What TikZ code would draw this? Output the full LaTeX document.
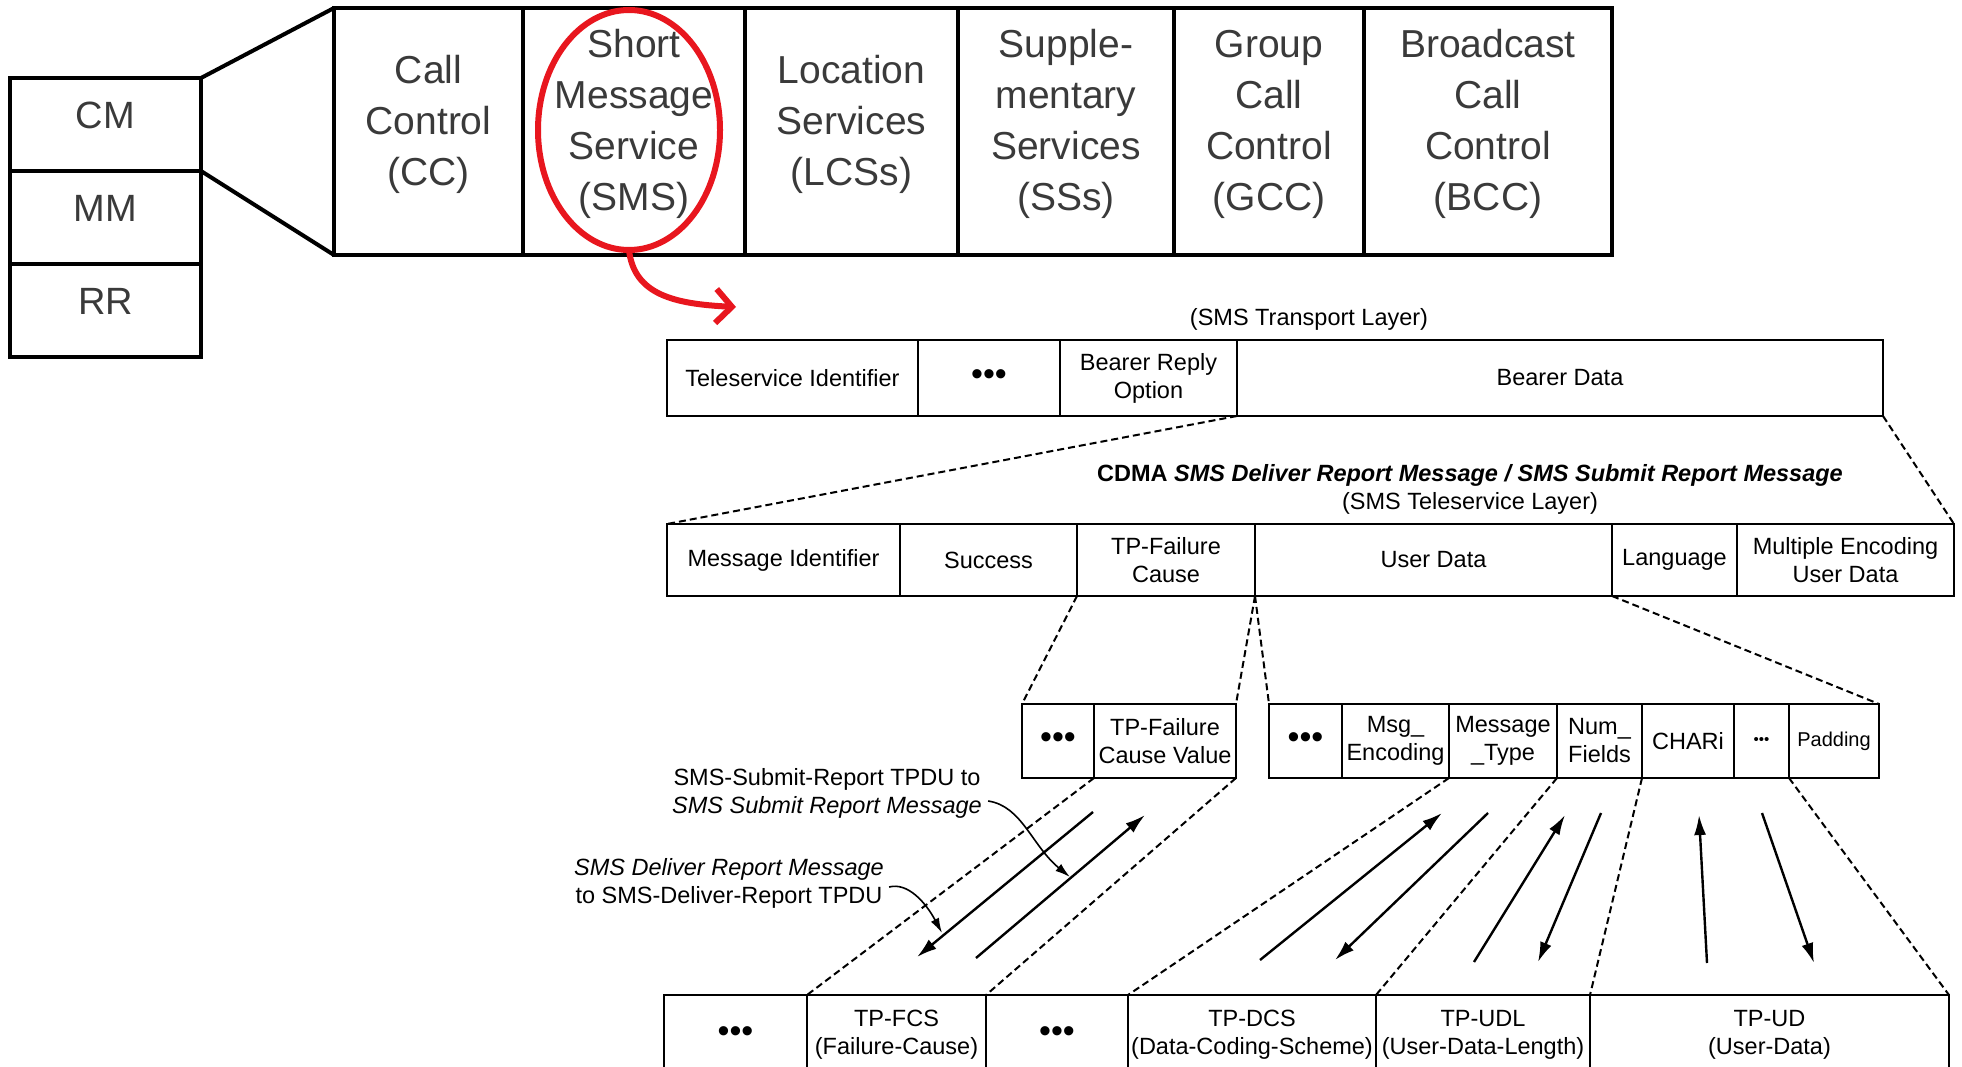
\documentclass[tikz,border=0pt]{standalone}
\usepackage{fontspec}
\setmainfont{Liberation Sans}
\usetikzlibrary{positioning,shapes.geometric,arrows.meta}

\definecolor{ringred}{RGB}{232,22,30}
\definecolor{scangray}{RGB}{58,58,58}
\newcommand{\bandfont}{\fontsize{39}{51}\selectfont}
\newcommand{\stackfont}{\fontsize{38}{46}\selectfont}
\newcommand{\fldfont}{\fontsize{23.5}{28}\selectfont}
\newcommand{\padfont}{\fontsize{20}{24}\selectfont}
\newcommand{\dotsfont}{\fontsize{34}{34}\selectfont}
\newcommand{\smalldots}{\fontsize{15}{15}\selectfont}

\begin{document}
\begin{tikzpicture}[x=1pt,y=-1pt,
					outer sep=0pt,
					stackbox/.style={draw,line width=4pt,minimum width=191pt,minimum height=93pt,text depth=18pt,font=\stackfont,text=scangray},
					svc/.style={draw,line width=4pt,minimum height=247pt,inner sep=0pt,align=center,text depth=23pt,font=\bandfont,text=scangray},
					fld/.style={draw,line width=2pt,inner sep=0pt,align=center,font=\fldfont},
					rowa/.style={fld,minimum height=76pt},
					rowb/.style={fld,minimum height=72pt},
					rowc/.style={fld,minimum height=74pt},
					rowd/.style={fld,minimum height=80pt},
					zoomline/.style={line width=2pt,dash pattern=on 7pt off 4pt},
					xfer/.style={line width=2.4pt,-{Latex[length=20pt,width=12pt]}},
					note/.style={align=center,font=\fldfont},
					notearrow/.style={line width=1.6pt,-{Latex[length=15pt,width=9pt]}}]

  \useasboundingbox (0,0) rectangle (1962,1067);
  \clip (0,0) rectangle (1962,1067);

  % protocol stack
  \node[stackbox,anchor=north west] (CM) at (10,78) {CM};
  \node[stackbox,below=0pt of CM] (MM) {MM};
  \node[stackbox,below=0pt of MM] (RR) {RR};

  % CM sublayer services
  \node[svc,minimum width=189pt,anchor=north west] (CC) at (334,8) {Call\\Control\\(CC)};
  \node[svc,minimum width=222pt,right=0pt of CC] (SMS) {Short\\Message\\Service\\(SMS)};
  \node[svc,minimum width=213pt,right=0pt of SMS] (LCS) {Location\\Services\\(LCSs)};
  \node[svc,minimum width=216pt,right=0pt of LCS] (SS) {Supple-\\mentary\\Services\\(SSs)};
  \node[svc,minimum width=190pt,right=0pt of SS] (GCC) {Group\\Call\\Control\\(GCC)};
  \node[svc,minimum width=248pt,right=0pt of GCC] (BCC) {Broadcast\\Call\\Control\\(BCC)};

  \draw[line width=4pt] (CM.north east) -- (CC.north west)
                        (CM.south east) -- (CC.south west);

  \node[draw=ringred,line width=6pt,ellipse,minimum width=182pt,minimum height=240pt] (ring) at (629,130) {};
  \coordinate (redtip) at (736,307);
  \draw[ringred,line width=6pt,-{Straight Barb[length=16pt,width=34pt]}]
    (ring.south) .. controls (634,295) and (675,304) .. (redtip);

  % SMS transport layer
  \node[note] (translbl) at (1309,319) {(SMS Transport Layer)};
  \node[rowa,minimum width=251pt,anchor=north west] (tsid) at (667,340) {Teleservice Identifier};
  \node[rowa,minimum width=142pt,right=0pt of tsid,font=\dotsfont] (tdots) {•••};
  \node[rowa,minimum width=177pt,right=0pt of tdots] (bro) {Bearer Reply\\Option};
  \node[rowa,minimum width=646pt,right=0pt of bro] (bdata) {Bearer Data};

  % SMS teleservice layer
  \node[note] (tslayer) at (1470,489) {\textbf{CDMA \textit{SMS Deliver Report Message / SMS Submit Report Message}}\\(SMS Teleservice Layer)};
  \node[rowb,minimum width=233pt,anchor=north west] (msgid) at (667,524) {Message Identifier};
  \node[rowb,minimum width=177pt,right=0pt of msgid] (succ) {Success};
  \node[rowb,minimum width=178pt,right=0pt of succ] (tpfc) {TP-Failure\\Cause};
  \node[rowb,minimum width=357pt,right=0pt of tpfc] (udata) {User Data};
  \node[rowb,minimum width=125pt,right=0pt of udata] (lang) {Language};
  \node[rowb,minimum width=217pt,right=0pt of lang] (meud) {Multiple Encoding\\User Data};

  \draw[zoomline] (bdata.south west) -- (msgid.north west)
                  (bdata.south east) -- (meud.north east);

  % subparameters
  \node[rowc,minimum width=72pt,anchor=north west,font=\dotsfont] (fdots) at (1022,704) {•••};
  \node[rowc,minimum width=142pt,right=0pt of fdots] (fcv) {TP-Failure\\Cause Value};
  \node[rowc,minimum width=73pt,anchor=north west,font=\dotsfont] (udots) at (1269,704) {•••};
  \node[rowc,minimum width=107pt,right=0pt of udots] (menc) {Msg\_\\Encoding};
  \node[rowc,minimum width=108pt,right=0pt of menc] (mtype) {Message\\\_Type};
  \node[rowc,minimum width=85pt,right=0pt of mtype] (nfld) {Num\_\\Fields};
  \node[rowc,minimum width=92pt,right=0pt of nfld] (chari) {CHARi};
  \node[rowc,minimum width=55pt,right=0pt of chari,font=\smalldots] (sdots) {•••};
  \node[rowc,minimum width=90pt,right=0pt of sdots,font=\padfont] (pad) {Padding};

  \draw[zoomline] (succ.south east) -- (fdots.north west)
                  (tpfc.south east) -- (fcv.north east)
                  (tpfc.south east) -- (udots.north west)
                  (udata.south east) -- (pad.north east);

  % TPDU fields
  \node[rowd,minimum width=143pt,anchor=north west,font=\dotsfont] (ldots) at (664,995) {•••};
  \node[rowd,minimum width=179pt,right=0pt of ldots] (fcs) {TP-FCS\\(Failure-Cause)};
  \node[rowd,minimum width=142pt,right=0pt of fcs,font=\dotsfont] (mdots) {•••};
  \node[rowd,minimum width=248pt,right=0pt of mdots] (dcs) {TP-DCS\\(Data-Coding-Scheme)};
  \node[rowd,minimum width=214pt,right=0pt of dcs] (udl) {TP-UDL\\(User-Data-Length)};
  \node[rowd,minimum width=359pt,right=0pt of udl] (ud) {TP-UD\\(User-Data)};

  \draw[zoomline] (fdots.south east) -- (fcs.north west)
                  (fcv.south east) -- (fcs.north east)
                  (menc.south east) -- (dcs.north west)
                  (mtype.south east) -- (dcs.north east)
                  (nfld.south east) -- (udl.north east)
                  (sdots.south east) -- (ud.north east);

  % mapping arrows
  \coordinate (fcsdn0) at (1093,812);  \coordinate (fcsdn1) at (917,957);
  \coordinate (fcsup0) at (976,958);   \coordinate (fcsup1) at (1145,815);
  \coordinate (dcsup0) at (1260,960);  \coordinate (dcsup1) at (1442,813);
  \coordinate (dcsdn0) at (1488,813);  \coordinate (dcsdn1) at (1335,960);
  \coordinate (udlup0) at (1474,962);  \coordinate (udlup1) at (1565,815);
  \coordinate (udldn0) at (1601,813);  \coordinate (udldn1) at (1538,962);
  \coordinate (udup0) at (1707,963);   \coordinate (udup1) at (1699,815);
  \coordinate (uddn0) at (1762,813);   \coordinate (uddn1) at (1814,963);

  \draw[xfer] (fcsdn0) -- (fcsdn1);
  \draw[xfer] (fcsup0) -- (fcsup1);
  \draw[xfer] (dcsup0) -- (dcsup1);
  \draw[xfer] (dcsdn0) -- (dcsdn1);
  \draw[xfer] (udlup0) -- (udlup1);
  \draw[xfer] (udldn0) -- (udldn1);
  \draw[xfer] (udup0) -- (udup1);
  \draw[xfer] (uddn0) -- (uddn1);

  % direction notes
  \node[note] (sublbl) at (827,793) {SMS-Submit-Report TPDU to\\\textit{SMS Submit Report Message}};
  \node[note] (dlvlbl) at (729,883) {\textit{SMS Deliver Report Message}\\to SMS-Deliver-Report TPDU};
  \coordinate (subhit) at (1070,877);
  \coordinate (dlvhit) at (942,933);

  \draw[notearrow] ([xshift=3pt,yshift=-8pt]sublbl.east) .. controls (1022,806) and (1032,846) .. (subhit);
  \draw[notearrow] ([xshift=2pt,yshift=-4pt]dlvlbl.east) .. controls (908,882) and (926,903) .. (dlvhit);
\end{tikzpicture}
\end{document}
